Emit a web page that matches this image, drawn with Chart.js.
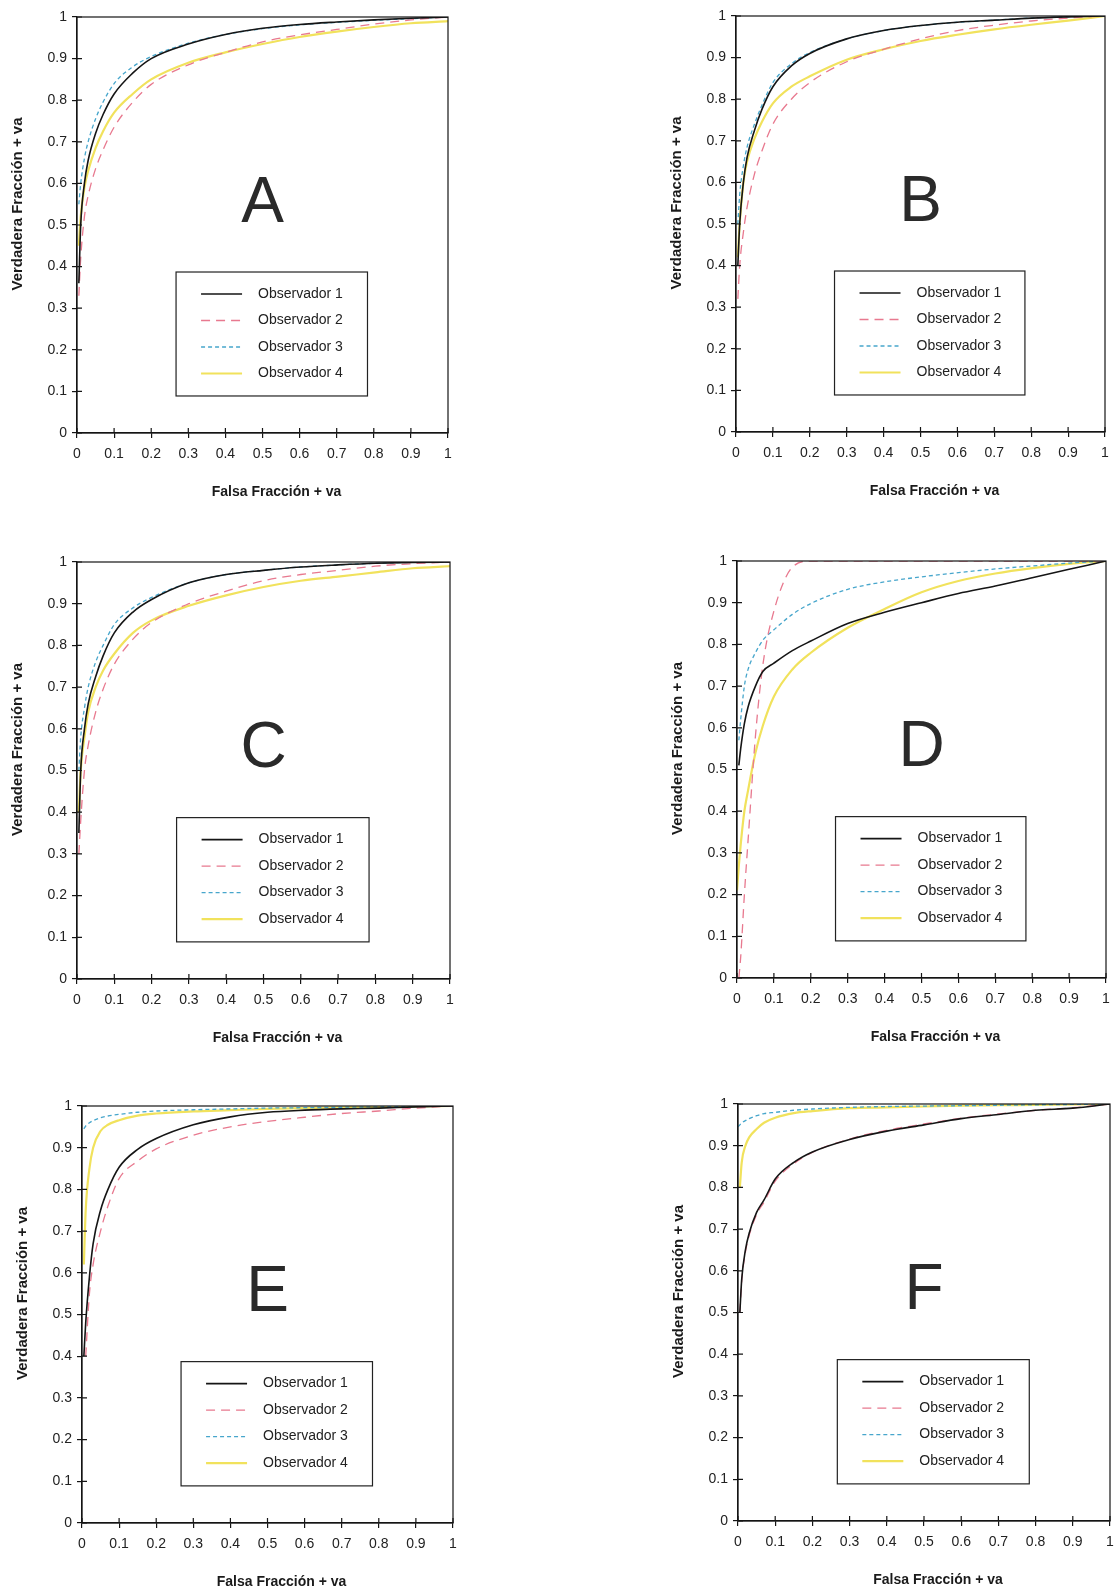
<!DOCTYPE html>
<html>
<head>
<meta charset="utf-8">
<script src="https://cdn.jsdelivr.net/npm/chart.js@4.4.0/dist/chart.umd.min.js"></script>
<style>
  body { margin: 0; background: #fff; width: 1114px; height: 1592px; overflow: hidden; position: relative; }
  canvas { position: absolute; }
</style>
</head>
<body>
<canvas id="panel-A"></canvas>
<canvas id="panel-B"></canvas>
<canvas id="panel-C"></canvas>
<canvas id="panel-D"></canvas>
<canvas id="panel-E"></canvas>
<canvas id="panel-F"></canvas>
<script>
// tick values and labels (same on both axes)
var axisTicks = [0, 0.1, 0.2, 0.3, 0.4, 0.5, 0.6, 0.7, 0.8, 0.9, 1];
var tickLabels = ['0', '0.1', '0.2', '0.3', '0.4', '0.5', '0.6', '0.7', '0.8', '0.9', '1'];
var observers = ['Observador 1', 'Observador 2', 'Observador 3', 'Observador 4'];
var panelLetters = ['A', 'B', 'C', 'D', 'E', 'F'];

// false positive fraction (x) shared by every curve
var fpr = [0, 0.005, 0.01, 0.02, 0.03, 0.05, 0.07, 0.1, 0.15, 0.2, 0.3, 0.4, 0.5, 0.6, 0.7, 0.8, 0.9, 1];

// true positive fraction (y), one list per panel and observer
var tprA1 = [null, .36, .50, .60, .655, .72, .765, .815, .865, .90, .935, .958, .973, .982, .988, .993, .997, 1];
var tprA2 = [null, .33, .42, .52, .57, .635, .68, .735, .795, .838, .885, .915, .94, .957, .97, .983, .993, 1];
var tprA3 = [null, .55, .60, .66, .70, .755, .795, .84, .88, .905, .937, .958, .972, .981, .987, .992, .996, 1];
var tprA4 = [null, .45, .52, .59, .63, .685, .725, .77, .815, .85, .89, .915, .935, .952, .965, .976, .985, .99];

var tprB1 = [null, .40, .50, .60, .66, .725, .775, .83, .88, .91, .945, .965, .977, .985, .99, .995, .998, 1];
var tprB2 = [null, .32, .40, .48, .54, .62, .675, .74, .80, .84, .89, .92, .945, .965, .978, .988, .995, 1];
var tprB3 = [null, .50, .57, .64, .685, .74, .785, .84, .885, .912, .945, .965, .977, .985, .99, .995, .998, 1];
var tprB4 = [null, .42, .50, .60, .65, .705, .745, .79, .83, .855, .895, .92, .94, .955, .968, .979, .989, 1];

var tprC1 = [null, .35, .50, .60, .66, .725, .775, .83, .88, .91, .95, .97, .98, .988, .993, .997, .999, 1];
var tprC2 = [null, .30, .38, .50, .56, .64, .695, .755, .815, .855, .90, .93, .955, .97, .98, .99, .996, 1];
var tprC3 = [null, .50, .58, .65, .70, .76, .80, .85, .89, .915, .95, .97, .98, .988, .993, .997, .999, 1];
var tprC4 = [null, .40, .50, .58, .64, .70, .74, .78, .83, .86, .895, .92, .94, .955, .965, .975, .985, .99];

var tprD1 = [null, .51, .55, .61, .65, .70, .735, .755, .785, .808, .85, .877, .90, .922, .94, .96, .98, 1];
var tprD2 = [null, 0, .05, .20, .33, .58, .75, .88, .985, 1, 1, 1, 1, 1, 1, 1, 1, 1];
var tprD3 = [null, .57, .62, .70, .74, .78, .81, .835, .872, .898, .932, .95, .962, .972, .981, .988, .995, 1];
var tprD4 = [.21, .27, .32, .40, .45, .54, .605, .675, .74, .78, .84, .885, .925, .952, .97, .983, .993, 1];

var tprE1 = [null, .40, .48, .59, .67, .75, .80, .853, .896, .922, .955, .974, .985, .99, .993, .995, .998, 1];
var tprE2 = [null, null, .40, .55, .62, .70, .76, .826, .868, .897, .93, .95, .963, .973, .982, .988, .995, 1];
var tprE3 = [null, .945, .952, .96, .965, .972, .976, .98, .985, .988, .991, .993, .995, .996, .997, .998, .999, 1];
var tprE4 = [null, .62, .75, .85, .90, .94, .955, .966, .977, .982, .987, .99, .993, .995, .997, .998, .999, 1];

var tprF1 = [null, .50, .58, .65, .69, .74, .77, .82, .86, .885, .915, .935, .95, .965, .975, .985, .99, 1];
var tprF2 = [null, .50, .575, .645, .685, .735, .765, .815, .857, .884, .916, .937, .952, .966, .976, .985, .991, 1];
var tprF3 = [.945, .95, .955, .96, .965, .972, .977, .98, .985, .988, .992, .994, .995, .996, .997, .998, .999, 1];
var tprF4 = [null, .80, .86, .90, .92, .94, .955, .967, .978, .983, .99, .992, .994, .996, .997, .998, .999, 1];

var panelSeries = [
  [tprA1, tprA2, tprA3, tprA4],
  [tprB1, tprB2, tprB3, tprB4],
  [tprC1, tprC2, tprC3, tprC4],
  [tprD1, tprD2, tprD3, tprD4],
  [tprE1, tprE2, tprE3, tprE4],
  [tprF1, tprF2, tprF3, tprF4]
];

// page layout: plot area of each panel [left, top, right, bottom]
var panelBoxes = [
  [77, 17, 448, 433],
  [736, 16, 1105, 432],
  [77, 562, 450, 979],
  [737, 561, 1106, 978],
  [82, 1106, 453, 1523],
  [738, 1104, 1110, 1521]
];
var Y_AXIS_W = 77, X_AXIS_H = 72, PAD_TOP = 17, PAD_RIGHT = 12;

var lineStyles = [
  { color: '#151515', width: 1.6, dash: [] },
  { color: '#e8798f', width: 1.3, dash: [9, 6] },
  { color: '#47a6cc', width: 1.3, dash: [4, 3] },
  { color: '#f1e25c', width: 2.2, dash: [] }
];

var FONT = '"Liberation Sans", Arial, sans-serif';

var panelDecor = {
  id: 'panelDecor',
  afterDraw: function(chart, args, opts) {
    var ctx = chart.ctx, a = chart.chartArea;
    var xs = chart.scales.x, ys = chart.scales.y;
    ctx.save();

    // frame round the plot
    ctx.strokeStyle = '#151515';
    ctx.lineWidth = 1.2;
    ctx.setLineDash([]);
    ctx.strokeRect(a.left, a.top, a.right - a.left, a.bottom - a.top);

    // inner half of the crossing tick marks
    ctx.beginPath();
    axisTicks.forEach(function(v) {
      var px = xs.getPixelForValue(v);
      ctx.moveTo(px, a.bottom);
      ctx.lineTo(px, a.bottom - 5);
      var py = ys.getPixelForValue(v);
      ctx.moveTo(a.left, py);
      ctx.lineTo(a.left + 5, py);
    });
    ctx.stroke();

    // big panel letter
    ctx.fillStyle = '#2a2a2a';
    ctx.font = '64px ' + FONT;
    ctx.textAlign = 'center';
    ctx.textBaseline = 'middle';
    ctx.fillText(opts.letter, xs.getPixelForValue(0.5), ys.getPixelForValue(0.55));

    // legend box
    var bl = xs.getPixelForValue(0.267), br = xs.getPixelForValue(0.783);
    var bt = ys.getPixelForValue(0.387), bb = ys.getPixelForValue(0.089);
    ctx.fillStyle = '#fff';
    ctx.fillRect(bl, bt, br - bl, bb - bt);
    ctx.strokeStyle = '#222';
    ctx.lineWidth = 1.2;
    ctx.strokeRect(bl, bt, br - bl, bb - bt);
    ctx.font = '14px ' + FONT;
    ctx.textAlign = 'left';
    chart.data.datasets.forEach(function(ds, i) {
      var ry = bt + 22 + 26.5 * i;
      ctx.strokeStyle = ds.borderColor;
      ctx.lineWidth = ds.borderWidth;
      ctx.setLineDash(ds.borderDash);
      ctx.beginPath();
      ctx.moveTo(bl + 25, ry);
      ctx.lineTo(bl + 66, ry);
      ctx.stroke();
      ctx.setLineDash([]);
      ctx.fillStyle = '#222';
      ctx.fillText(ds.label, bl + 82, ry);
    });

    // axis titles
    ctx.fillStyle = '#1a1a1a';
    ctx.font = 'bold 14px ' + FONT;
    ctx.textAlign = 'center';
    ctx.fillText('Falsa Fracción + va', (a.left + a.right) / 2 + 14, a.bottom + 59);
    ctx.translate(a.left - 59, (a.top + a.bottom) / 2 - 21);
    ctx.rotate(-Math.PI / 2);
    ctx.font = 'bold 15px ' + FONT;
    ctx.fillText('Verdadera Fracción + va', 0, 0);
    ctx.restore();
  }
};

function axisOptions(isX) {
  return {
    type: 'linear',
    min: 0,
    max: 1,
    afterBuildTicks: function(scale) {
      scale.ticks = axisTicks.map(function(v) { return { value: v }; });
    },
    afterFit: function(scale) {
      if (isX) scale.height = X_AXIS_H; else scale.width = Y_AXIS_W;
    },
    ticks: {
      autoSkip: false,
      maxRotation: 0,
      padding: isX ? 8 : 5,
      color: '#222',
      font: { family: FONT, size: 14 },
      callback: function(value, index) { return tickLabels[index]; }
    },
    grid: { drawOnChartArea: false, drawTicks: true, tickLength: 5, color: '#151515', lineWidth: 1.2 },
    border: { display: true, color: '#151515', width: 1.2 }
  };
}

panelLetters.forEach(function(letter, p) {
  var box = panelBoxes[p];
  var canvas = document.getElementById('panel-' + letter);
  var w = (box[2] - box[0]) + Y_AXIS_W + PAD_RIGHT;
  var h = (box[3] - box[1]) + PAD_TOP + X_AXIS_H;
  canvas.width = w;
  canvas.height = h;
  canvas.style.left = (box[0] - Y_AXIS_W) + 'px';
  canvas.style.top = (box[1] - PAD_TOP) + 'px';
  canvas.style.width = w + 'px';
  canvas.style.height = h + 'px';

  var datasets = observers.map(function(name, i) {
    var tpr = panelSeries[p][i];
    var pts = [];
    fpr.forEach(function(x, k) {
      if (tpr[k] !== null) pts.push({ x: x, y: tpr[k] });
    });
    return {
      label: name,
      data: pts,
      showLine: true,
      borderColor: lineStyles[i].color,
      borderWidth: lineStyles[i].width,
      borderDash: lineStyles[i].dash,
      pointRadius: 0,
      cubicInterpolationMode: 'monotone',
      fill: false
    };
  });

  new Chart(canvas, {
    type: 'scatter',
    data: { datasets: datasets },
    options: {
      responsive: false,
      animation: false,
      layout: { padding: { top: PAD_TOP, right: PAD_RIGHT, left: 0, bottom: 0 } },
      plugins: {
        legend: { display: false },
        tooltip: { enabled: false },
        panelDecor: { letter: letter }
      },
      scales: { x: axisOptions(true), y: axisOptions(false) }
    },
    plugins: [panelDecor]
  });
});
</script>
</body>
</html>
